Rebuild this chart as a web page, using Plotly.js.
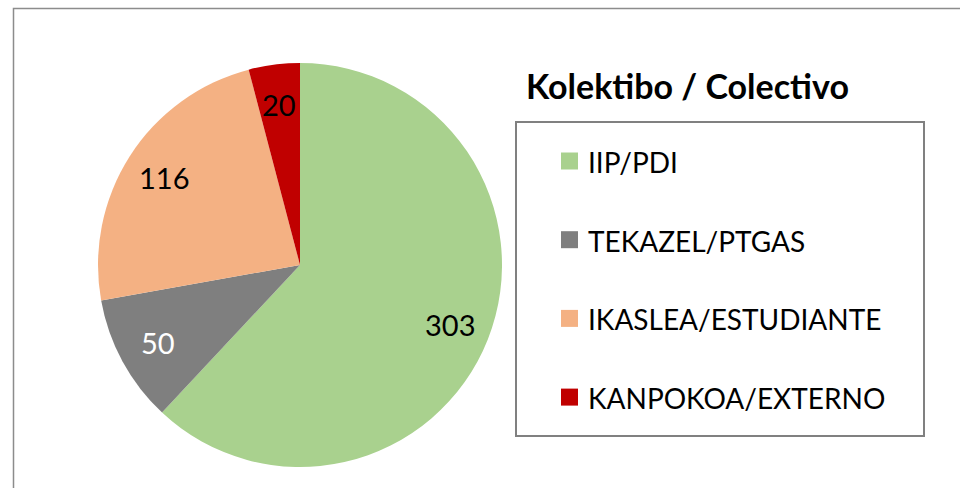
<!DOCTYPE html>
<html>
<head>
<meta charset="utf-8">
<script src="https://cdn.plot.ly/plotly-3.0.1.min.js"></script>
<style>
html,body{margin:0;padding:0;background:#fff;}
#chart{width:960px;height:488px;}
</style>
</head>
<body>
<div id="chart"></div>
<script>
// ---- data ----
const categories = ["IIP/PDI", "TEKAZEL/PTGAS", "IKASLEA/ESTUDIANTE", "KANPOKOA/EXTERNO"];
const values = [303, 50, 116, 20];
const colors = ["#A9D18E", "#7F7F7F", "#F4B183", "#C00000"];
const labelColors = ["#000000", "#FFFFFF", "#000000", "#000000"];
const legendTitle = "Kolektibo / Colectivo";

const FONT = "Lato, 'Open Sans', sans-serif";
const W = 960, H = 488;

// pie geometry (pixels)
const cx = 300, cy = 265, R = 202;

const trace = {
  type: "pie",
  values: values,
  labels: categories,
  sort: false,
  direction: "clockwise",
  rotation: 0,
  marker: {colors: colors, line: {width: 0}},
  textinfo: "none",
  showlegend: false,
  hoverinfo: "label+value",
  domain: {x: [(cx - R) / W, (cx + R) / W], y: [(H - cy - R) / H, (H - cy + R) / H]}
};

const shapes = [
  // outer chart frame (cropped)
  {type: "rect", xref: "paper", yref: "paper", x0: 13.5 / W, x1: 1.05, y0: -0.05, y1: 1 - 8.5 / H,
   line: {color: "#8C8C8C", width: 1.5}, fillcolor: "rgba(0,0,0,0)", layer: "below"},
  // legend box
  {type: "rect", xref: "paper", yref: "paper", x0: 516 / W, x1: 924 / W, y0: 1 - 436 / H, y1: 1 - 122 / H,
   line: {color: "#808080", width: 2}, fillcolor: "rgba(0,0,0,0)"}
];
const annotations = [
  {xref: "paper", yref: "paper", x: 524 / W, y: 1 - 85 / H, xanchor: "left", yanchor: "middle",
   text: "<b>" + legendTitle + "</b>", showarrow: false, font: {family: FONT, size: 34, color: "#000"}}
];

// data labels placed at the mid-angle of each slice, computed from the values
const total = values.reduce((a, b) => a + b, 0);
let cum = 0;
values.forEach((v, i) => {
  const mid = (cum + v / 2) / total * 2 * Math.PI;
  cum += v;
  const r = 0.8 * R;
  const px = cx + r * Math.sin(mid);
  const py = cy - r * Math.cos(mid);
  annotations.push({xref: "paper", yref: "paper", x: px / W, y: 1 - py / H,
    xanchor: "center", yanchor: "middle", text: String(v), showarrow: false,
    font: {family: FONT, size: 29, color: labelColors[i]}});
});

// legend built from categories / colors
const firstY = 161, stepY = 78.7, sq = 17;
categories.forEach((c, i) => {
  const yc = firstY + i * stepY;
  shapes.push({type: "rect", xref: "paper", yref: "paper",
    x0: 561 / W, x1: (561 + sq) / W, y0: 1 - (yc + sq / 2) / H, y1: 1 - (yc - sq / 2) / H,
    line: {width: 0}, fillcolor: colors[i]});
  annotations.push({xref: "paper", yref: "paper", x: 586 / W, y: 1 - (yc + 1) / H,
    xanchor: "left", yanchor: "middle", text: c, showarrow: false,
    font: {family: FONT, size: 28, color: "#000"}});
});

const layout = {
  width: W, height: H,
  margin: {l: 0, r: 0, t: 0, b: 0},
  paper_bgcolor: "#FFFFFF",
  showlegend: false,
  shapes: shapes,
  annotations: annotations
};

Plotly.newPlot("chart", [trace], layout, {displayModeBar: false, staticPlot: true});
</script>
</body>
</html>
